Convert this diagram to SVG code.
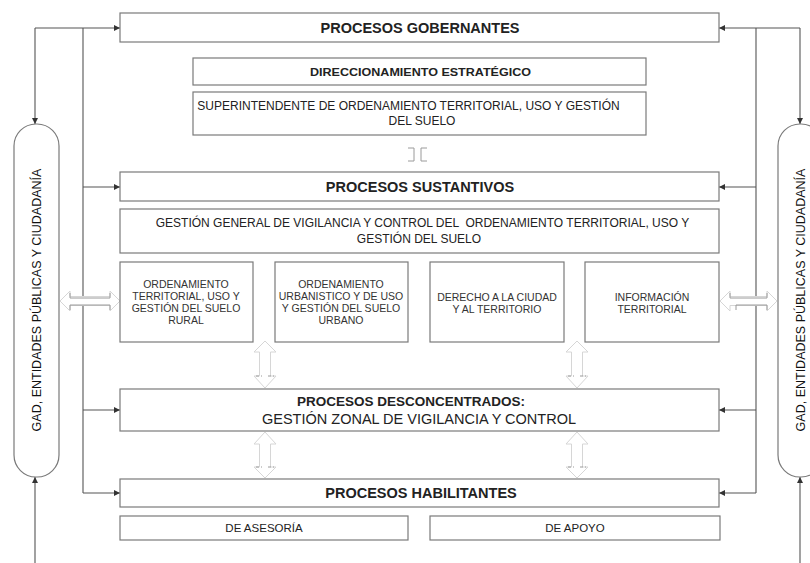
<svg xmlns="http://www.w3.org/2000/svg" width="810" height="563" viewBox="0 0 810 563">
<defs>
<marker id="ah" viewBox="0 0 10 10" refX="10" refY="5" markerWidth="8" markerHeight="6" orient="auto" markerUnits="userSpaceOnUse">
<path d="M0,0 L10,5 L0,10 Z" fill="#333"/>
</marker>
<style>
.box{fill:#fff;stroke:#7a7a7a;stroke-width:1.2}
.ln{fill:none;stroke:#555;stroke-width:1.1}
.ba{fill:#fff;stroke:#d6d6d6;stroke-width:1}
.mk{fill:none;stroke:#9a9a9a;stroke-width:1}
text{font-family:"Liberation Sans",Arial,sans-serif;fill:#222}
.h{font-size:14.5px;font-weight:bold;text-anchor:middle}
.t12{font-size:12px;text-anchor:middle}
.t10{font-size:10.5px;text-anchor:middle;fill:#333}
.tv{font-size:11.5px;text-anchor:middle}
.tg{font-size:12.5px;text-anchor:middle;fill:#111}
</style>
</defs>
<rect width="810" height="563" fill="#fff"/>

<g id="connectors">
<path class="ln" d="M35,28 H120" marker-end="url(#ah)"/>
<path class="ln" d="M35,28 V124" marker-end="url(#ah)"/>
<path class="ln" d="M83,28 V493"/>
<path class="ln" d="M83,187 H120" marker-end="url(#ah)"/>
<path class="ln" d="M83,410 H120" marker-end="url(#ah)"/>
<path class="ln" d="M83,493 H120" marker-end="url(#ah)"/>
<path class="ln" d="M35,563 V477" marker-end="url(#ah)"/>
<path class="ln" d="M800,28 H719" marker-end="url(#ah)"/>
<path class="ln" d="M800,28 V124" marker-end="url(#ah)"/>
<path class="ln" d="M756,28 V493"/>
<path class="ln" d="M756,187 H719" marker-end="url(#ah)"/>
<path class="ln" d="M756,410 H719" marker-end="url(#ah)"/>
<path class="ln" d="M756,493 H719" marker-end="url(#ah)"/>
<path class="ln" d="M800,563 V477" marker-end="url(#ah)"/>
<polygon class="ba" points="60,301 70,291 70,296.5 110,296.5 110,291 120,301 110,311 110,305.5 70,305.5 70,311"/>
<path class="mk" d="M70,293 V298 H110 V293 M70,310 V305 H110 V310"/>
<polygon class="ba" points="720,301 730,291 730,296.5 767,296.5 767,291 777,301 767,311 767,305.5 730,305.5 730,311"/>
<path class="mk" d="M730,293 V298 H767 V293 M736,310 V305 H767 V310"/>
<path class="mk" d="M408,148 H414 V161 H408 M427,148 H421 V161 H427"/>
<polygon class="ba" points="265,341 276,352 270.5,352 270.5,376 276,376 265,388 254,376 259.5,376 259.5,352 254,352"/>
<path class="mk" d="M256,376 H262 M268,376 H274" stroke-dasharray="3 2"/>
<polygon class="ba" points="265,432 276,444 270.5,444 270.5,467 276,467 265,478 254,467 259.5,467 259.5,444 254,444"/>
<path class="mk" d="M256,467 H262 M268,467 H274" stroke-dasharray="3 2"/>
<polygon class="ba" points="577,341 588,352 582.5,352 582.5,376 588,376 577,388 566,376 571.5,376 571.5,352 566,352"/>
<path class="mk" d="M568,376 H574 M580,376 H586" stroke-dasharray="3 2"/>
<polygon class="ba" points="577,432 588,444 582.5,444 582.5,467 588,467 577,478 566,467 571.5,467 571.5,444 566,444"/>
<path class="mk" d="M568,467 H574 M580,467 H586" stroke-dasharray="3 2"/>
</g>

<g id="gad-left">
<rect class="box" x="14" y="124" width="45" height="353" rx="22" ry="22"/>
<text class="tg" transform="translate(40.5,300) rotate(-90)">GAD, ENTIDADES PÚBLICAS Y CIUDADANÍA</text>
</g>
<g id="gad-right">
<rect class="box" x="778" y="124" width="45" height="353" rx="22" ry="22"/>
<text class="tg" transform="translate(804.5,300) rotate(-90)">GAD, ENTIDADES PÚBLICAS Y CIUDADANÍA</text>
</g>

<g id="gobernantes">
<rect class="box" x="120" y="13" width="599" height="29"/>
<text class="h" x="420" y="33">PROCESOS GOBERNANTES</text>
</g>
<g id="direccionamiento">
<rect class="box" x="193" y="58" width="453" height="27"/>
<text x="420.5" y="75.5" font-size="10.5" font-weight="bold" text-anchor="middle" textLength="221" lengthAdjust="spacingAndGlyphs">DIRECCIONAMIENTO ESTRATÉGICO</text>
</g>
<g id="superintendente">
<rect class="box" x="193" y="92" width="453" height="43"/>
<text class="t12" x="408.5" y="110">SUPERINTENDENTE DE ORDENAMIENTO TERRITORIAL, USO Y GESTIÓN</text>
<text class="t12" x="422" y="125">DEL SUELO</text>
</g>
<g id="sustantivos">
<rect class="box" x="120" y="172" width="599" height="29"/>
<text class="h" x="420" y="192">PROCESOS SUSTANTIVOS</text>
</g>
<g id="gestion-general">
<rect class="box" x="120" y="209" width="599" height="44"/>
<text class="t12" x="422.5" y="227" xml:space="preserve">GESTIÓN GENERAL DE VIGILANCIA Y CONTROL DEL  ORDENAMIENTO TERRITORIAL, USO Y</text>
<text class="t12" x="419" y="243">GESTIÓN DEL SUELO</text>
</g>
<g id="rural">
<rect class="box" x="120" y="262" width="133" height="80"/>
<text class="t10" x="186" y="288">ORDENAMIENTO</text>
<text class="t10" x="186" y="300">TERRITORIAL, USO Y</text>
<text class="t10" x="186" y="312">GESTIÓN DEL SUELO</text>
<text class="t10" x="186" y="324">RURAL</text>
</g>
<g id="urbano">
<rect class="box" x="275" y="262" width="133" height="80"/>
<text class="t10" x="341" y="288">ORDENAMIENTO</text>
<text class="t10" x="341" y="300">URBANISTICO Y DE USO</text>
<text class="t10" x="341" y="312">Y GESTIÓN DEL SUELO</text>
<text class="t10" x="341" y="324">URBANO</text>
</g>
<g id="derecho">
<rect class="box" x="430" y="262" width="134" height="80"/>
<text class="t10" x="497" y="301">DERECHO A LA CIUDAD</text>
<text class="t10" x="497" y="313">Y AL TERRITORIO</text>
</g>
<g id="informacion">
<rect class="box" x="585" y="262" width="134" height="80"/>
<text class="t10" x="652" y="301">INFORMACIÓN</text>
<text class="t10" x="652" y="313">TERRITORIAL</text>
</g>
<g id="desconcentrados">
<rect class="box" x="120" y="389" width="599" height="42"/>
<text class="h" x="411" y="406" style="font-size:13.5px">PROCESOS DESCONCENTRADOS:</text>
<text x="419" y="424" font-size="14.5" text-anchor="middle">GESTIÓN ZONAL DE VIGILANCIA Y CONTROL</text>
</g>
<g id="habilitantes">
<rect class="box" x="120" y="479" width="599" height="28"/>
<text class="h" x="421" y="498">PROCESOS HABILITANTES</text>
</g>
<g id="asesoria">
<rect class="box" x="120" y="516" width="288" height="24"/>
<text class="tv" x="264" y="532">DE ASESORÍA</text>
</g>
<g id="apoyo">
<rect class="box" x="430" y="516" width="290" height="24"/>
<text class="tv" x="575" y="532">DE APOYO</text>
</g>
</svg>
